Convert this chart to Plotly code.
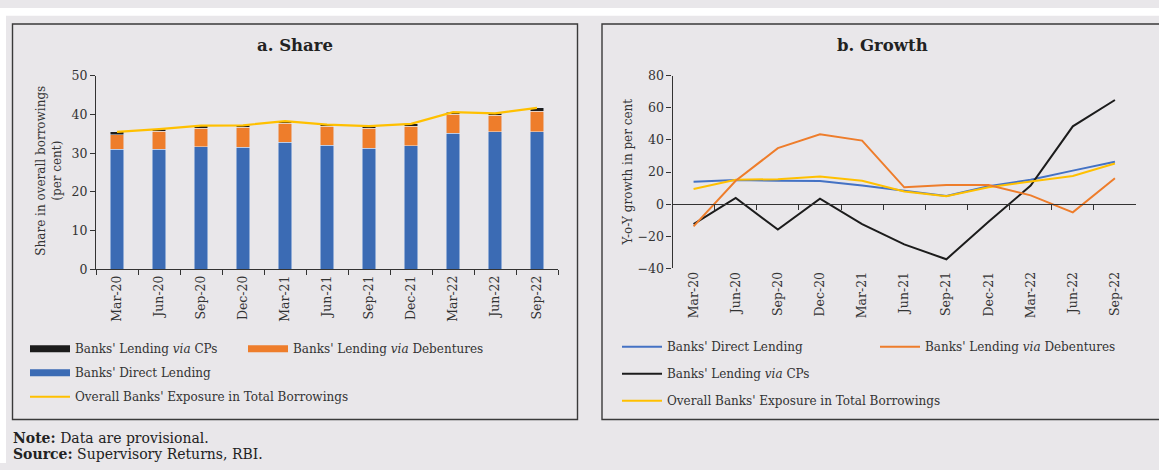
import plotly.graph_objects as go

categories = ["Mar-20", "Jun-20", "Sep-20", "Dec-20", "Mar-21", "Jun-21",
              "Sep-21", "Dec-21", "Mar-22", "Jun-22", "Sep-22"]

# Panel a: share in overall borrowings (per cent)
share_direct = [31.0, 31.0, 31.7, 31.5, 32.8, 32.0, 31.3, 31.9, 35.2, 35.6, 35.6]
share_debentures = [3.8, 4.7, 4.8, 5.2, 5.0, 5.0, 5.2, 5.1, 4.9, 4.2, 5.3]
share_cps = [0.7, 0.5, 0.6, 0.5, 0.5, 0.4, 0.5, 0.6, 0.5, 0.5, 0.8]
share_overall = [35.5, 36.2, 37.1, 37.2, 38.3, 37.4, 37.0, 37.6, 40.6, 40.3, 41.7]

# Panel b: Y-o-Y growth (per cent)
growth_direct = [14.0, 15.0, 14.6, 14.4, 11.6, 8.5, 5.1, 11.2, 15.2, 20.9, 26.4]
growth_debentures = [-13.8, 14.6, 34.9, 43.6, 39.6, 10.5, 12.0, 12.0, 5.5, -5.1, 16.2]
growth_cps = [-12.4, 3.9, -15.8, 3.4, -12.4, -25.0, -34.3, -11.0, 11.6, 48.5, 64.9]
growth_overall = [9.5, 15.2, 15.6, 17.2, 14.6, 7.9, 4.9, 10.5, 14.2, 17.6, 25.4]

share_ticks = [0, 10, 20, 30, 40, 50]
growth_ticks = [-40, -20, 0, 20, 40, 60, 80]

BLUE = "#3b6bb4"
ORANGE = "#ee7d2b"
BLACK = "#1c1c1c"
YELLOW = "#ffc000"
BG = "#e9e7ea"
FONT = "DejaVu Serif"
TXT = "#333333"

W, H = 1159, 470


def px(x):
    return x / W


def py(y):
    return 1 - y / H


fig = go.Figure()

# ---------- Panel a ----------
fig.add_trace(go.Bar(x=categories, y=share_direct, marker_color=BLUE, width=0.32,
                     showlegend=False, xaxis="x", yaxis="y", name="Banks' Direct Lending"))
fig.add_trace(go.Bar(x=categories, y=share_debentures, marker_color=ORANGE, width=0.32,
                     showlegend=False, xaxis="x", yaxis="y", name="Banks' Lending via Debentures"))
fig.add_trace(go.Bar(x=categories, y=share_cps, marker_color=BLACK, width=0.32,
                     showlegend=False, xaxis="x", yaxis="y", name="Banks' Lending via CPs"))
fig.add_trace(go.Scatter(x=categories, y=share_overall, mode="lines",
                         line=dict(color=YELLOW, width=2.2), showlegend=False,
                         xaxis="x", yaxis="y"))


def leg_entry(name, color, width, legend, group):
    return go.Scatter(x=[None], y=[None], mode="lines", name=name,
                      line=dict(color=color, width=width), legend=legend,
                      legendgroup=group, xaxis="x", yaxis="y", hoverinfo="skip")


fig.add_trace(leg_entry("Banks' Lending <i>via</i> CPs", BLACK, 7, "legend", "a1"))
fig.add_trace(leg_entry("Banks' Direct Lending", BLUE, 7, "legend", "a2"))
fig.add_trace(leg_entry("Overall Banks' Exposure in Total Borrowings", YELLOW, 2, "legend", "a3"))
fig.add_trace(leg_entry("Banks' Lending <i>via</i> Debentures", ORANGE, 7, "legend2", "a4"))

# ---------- Panel b ----------
fig.add_trace(go.Scatter(x=categories, y=growth_direct, mode="lines", name="Banks' Direct Lending",
                         line=dict(color="#4472c4", width=2), xaxis="x2", yaxis="y2",
                         legend="legend3", legendgroup="b1"))
fig.add_trace(go.Scatter(x=categories, y=growth_cps, mode="lines", name="Banks' Lending <i>via</i> CPs",
                         line=dict(color=BLACK, width=2), xaxis="x2", yaxis="y2",
                         legend="legend3", legendgroup="b2"))
fig.add_trace(go.Scatter(x=categories, y=growth_overall, mode="lines",
                         name="Overall Banks' Exposure in Total Borrowings",
                         line=dict(color=YELLOW, width=2), xaxis="x2", yaxis="y2",
                         legend="legend3", legendgroup="b3"))
fig.add_trace(go.Scatter(x=categories, y=growth_debentures, mode="lines",
                         name="Banks' Lending <i>via</i> Debentures",
                         line=dict(color=ORANGE, width=2), xaxis="x2", yaxis="y2",
                         legend="legend4", legendgroup="b4"))
# carrier for the zero-line category axis
fig.add_trace(go.Scatter(x=categories, y=[None] * len(categories), mode="lines",
                         showlegend=False, xaxis="x3", yaxis="y2", hoverinfo="skip"))

# domains
ax_dom = [px(96), px(558)]
ay_dom = [py(270), py(70)]
bx_dom = [px(672.5), px(1136)]
by_dom = [py(269), py(70)]
zero_pos = by_dom[0] + (0 - growth_ticks[0]) / (growth_ticks[-1] - growth_ticks[0]) * (by_dom[1] - by_dom[0])

tickfont = dict(family=FONT, size=12.5, color=TXT)
legfont = dict(family=FONT, size=12, color=TXT)

fig.update_layout(
    width=W, height=H,
    margin=dict(l=0, r=0, t=0, b=0),
    paper_bgcolor=BG, plot_bgcolor=BG,
    barmode="stack",
    font=dict(family=FONT, color=TXT),
    xaxis=dict(domain=ax_dom, anchor="y", type="category", categoryarray=categories,
               showline=True, linecolor="#333", linewidth=1.2, ticks="outside",
               tickson="boundaries", ticklen=5, tickcolor="#333", tickangle=-90,
               tickfont=tickfont, showgrid=False, range=[-0.5, 10.5]),
    yaxis=dict(domain=ay_dom, anchor="x", range=[0, 50], tickvals=share_ticks,
               showline=True, linecolor="#333", linewidth=1.2, ticks="outside",
               ticklen=5, tickcolor="#333", tickfont=tickfont, showgrid=False,
               zeroline=False),
    xaxis2=dict(domain=bx_dom, anchor="y2", type="category", categoryarray=categories,
                showline=False, ticks="", tickangle=-90, tickfont=tickfont,
                showgrid=False, range=[-0.5, 10.5]),
    xaxis3=dict(overlaying="x2", anchor="free", position=zero_pos, type="category",
                categoryarray=categories, showline=True, linecolor="#333", linewidth=1.2,
                ticks="outside", tickson="boundaries", ticklen=5, tickcolor="#333",
                showticklabels=False, showgrid=False, range=[-0.5, 10.5]),
    yaxis2=dict(domain=by_dom, anchor="x2", range=[-40, 80], tickvals=growth_ticks,
                showline=True, linecolor="#333", linewidth=1.2, ticks="outside",
                ticklen=5, tickcolor="#333", tickfont=tickfont, showgrid=False,
                zeroline=False),
    legend=dict(x=px(25), y=py(337), xanchor="left", yanchor="top", orientation="v",
                bgcolor="rgba(0,0,0,0)", font=legfont, tracegroupgap=5, itemwidth=40),
    legend2=dict(x=px(243), y=py(337), xanchor="left", yanchor="top", orientation="v",
                 bgcolor="rgba(0,0,0,0)", font=legfont, itemwidth=40),
    legend3=dict(x=px(617), y=py(335), xanchor="left", yanchor="top", orientation="v",
                 bgcolor="rgba(0,0,0,0)", font=legfont, tracegroupgap=8, itemwidth=40),
    legend4=dict(x=px(875), y=py(335), xanchor="left", yanchor="top", orientation="v",
                 bgcolor="rgba(0,0,0,0)", font=legfont, itemwidth=40),
    shapes=[
        dict(type="rect", xref="paper", yref="paper", x0=0, x1=1, y0=py(8), y1=1,
             fillcolor="white", line=dict(width=0), layer="below"),
        dict(type="rect", xref="paper", yref="paper", x0=0, x1=px(6), y0=0, y1=1,
             fillcolor="white", line=dict(width=0), layer="below"),
        dict(type="rect", xref="paper", yref="paper", x0=px(12.5), x1=px(577.5),
             y0=py(425), y1=py(16.5), line=dict(color="#3a3a3a", width=1.4)),
        dict(type="rect", xref="paper", yref="paper", x0=px(602), x1=px(1170),
             y0=py(425), y1=py(16.5), line=dict(color="#3a3a3a", width=1.4)),
    ],
    annotations=[
        dict(text="<b>a. Share</b>", x=px(294.5), y=py(39), xref="paper", yref="paper",
             xanchor="center", yanchor="middle", showarrow=False,
             font=dict(family=FONT, size=16.5, color="#222")),
        dict(text="<b>b. Growth</b>", x=px(882.5), y=py(39), xref="paper", yref="paper",
             xanchor="center", yanchor="middle", showarrow=False,
             font=dict(family=FONT, size=16.5, color="#222")),
        dict(text="Share in overall borrowings<br>(per cent)", x=px(49), y=py(168),
             xref="paper", yref="paper", xanchor="center", yanchor="middle",
             showarrow=False, textangle=-90,
             font=dict(family=FONT, size=12, color=TXT)),
        dict(text="Y-o-Y growth in per cent", x=px(628), y=py(170),
             xref="paper", yref="paper", xanchor="center", yanchor="middle",
             showarrow=False, textangle=-90,
             font=dict(family=FONT, size=12, color=TXT)),
        dict(text="<b>Note:</b> Data are provisional.", x=px(11), y=py(444),
             xref="paper", yref="paper", xanchor="left", yanchor="middle", showarrow=False,
             font=dict(family=FONT, size=14, color="#222")),
        dict(text="<b>Source:</b> Supervisory Returns, RBI.", x=px(11), y=py(461),
             xref="paper", yref="paper", xanchor="left", yanchor="middle", showarrow=False,
             font=dict(family=FONT, size=14, color="#222")),
    ],
)

fig.write_html("out.html", config={"displayModeBar": False},
               post_script="document.body.style.margin='0px';document.body.style.overflow='hidden';")
